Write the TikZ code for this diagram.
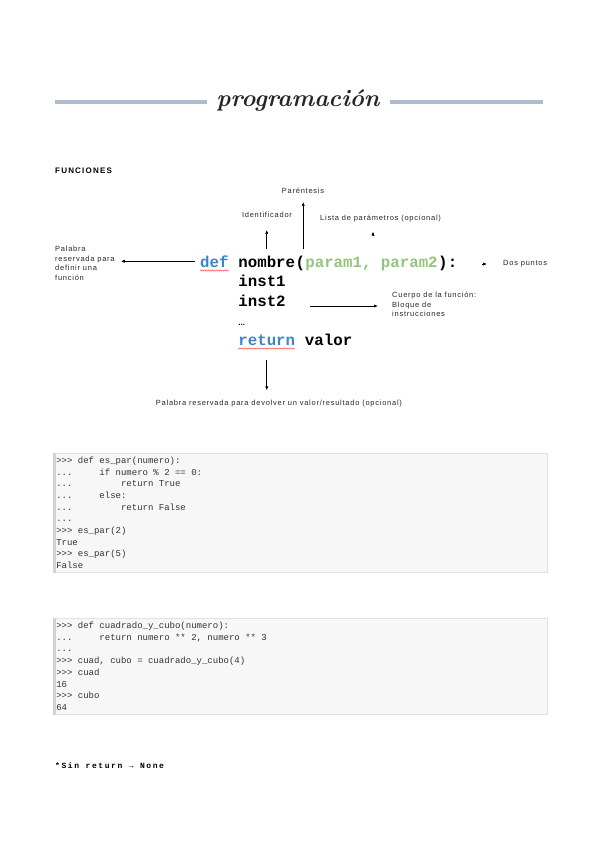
\documentclass[tikz,border=0pt]{standalone}
\usepackage{fontspec}
\setsansfont{Liberation Sans}
\setmonofont{Liberation Mono}
\usepackage{xcolor}
\usepackage{tikz}
\usetikzlibrary{arrows.meta,decorations.pathmorphing}

\definecolor{barblue}{HTML}{AEBBCD}
\definecolor{kwblue}{HTML}{3D85C6}
\definecolor{argreen}{HTML}{93C47D}
\definecolor{boxfill}{HTML}{F7F7F7}
\definecolor{boxline}{HTML}{E2E2E2}
\definecolor{boxstripe}{HTML}{D2D2D2}
\definecolor{consoletext}{HTML}{333333}
% n columns of the console font
\newlength\colwd
\newcommand\monospacing{\settowidth\colwd{x}\spaceskip=\colwd\relax\xspaceskip=\colwd\relax}
\newcommand\cols[1]{\hspace*{#1\colwd}}

\begin{document}
\begin{tikzpicture}[
  x=1pt,y=-1pt,
  font=\sffamily\fontsize{7.5}{9.5}\selectfont,
  note/.style={inner sep=1pt,align=left,text=black!85,
    font=\sffamily\fontsize{7.5}{9.5}\selectfont\addfontfeature{LetterSpace=10}},
  code/.style={inner sep=0pt,anchor=base west,
    font=\ttfamily\bfseries\fontsize{15.75}{19.5}\selectfont},
  flow/.style={-{Latex[length=4pt,width=3.2pt]},line width=0.7pt},
  squiggle/.style={draw=red!75,line width=0.4pt,decorate,
    decoration={snake,amplitude=0.6pt,segment length=2pt}},
  bar/.style={barblue,line width=4.5pt},
  console/.style={draw=boxline,fill=boxfill,line width=0.5pt,
    anchor=north west,text width=488pt,inner xsep=3pt,inner ysep=3pt,
    align=left,text=consoletext,
    font=\ttfamily\fontsize{9}{11.7}\selectfont}
]
\path[use as bounding box] (0,0) rectangle (599,848);
\draw[bar] (55,102) -- (207,102);
\draw[bar] (390,102) -- (543,102);
\node[text=black!85,font=\rmfamily\bfseries\itshape\fontsize{24}{28}\selectfont] (title) at (298,101) {programación};
\node[anchor=base west,inner sep=0pt,
  font=\sffamily\bfseries\fontsize{8}{9}\selectfont\addfontfeature{LetterSpace=15}] (funciones) at (55,173) {FUNCIONES};
\node[code,text=kwblue] (defkw) at (200,267) {def};
\node[code,xshift=9.45pt] (nombre) at (defkw.base east) {nombre};
\node[code] (lparen) at (nombre.base east) {(};
\node[code,text=argreen] (params) at (lparen.base east) {param1, param2};
\node[code] (rparen) at (params.base east) {)};
\node[code] (colon) at (rparen.base east) {:};
\node[code] (inst1) at ([yshift=-19.5pt]nombre.base west) {inst1};
\node[code] (inst2) at ([yshift=-19.5pt]inst1.base west) {inst2};
\node[code,font=\sffamily\bfseries\fontsize{8}{9}\selectfont] (dots) at ([yshift=-19pt]inst2.base west) {...};
\node[code,text=kwblue] (retkw) at ([yshift=-39pt]inst2.base west) {return};
\node[code,xshift=9.45pt] (valor) at (retkw.base east) {valor};
\draw[squiggle] ([yshift=-3.5pt]defkw.base west) -- ([yshift=-3.5pt]defkw.base east);
\draw[squiggle] ([yshift=-3.5pt]retkw.base west) -- ([yshift=-3.5pt]retkw.base east);
\node[note,anchor=north west] (reservada) at (54,245) {Palabra\\reservada para\\definir una\\función};
\node[note] (identif) at (267,215) {Identificador};
\node[note] (parent) at (303,191) {Paréntesis};
\node[note,anchor=west] (lista) at (319,219) {Lista de parámetros (opcional)};
\node[note,anchor=west] (dospuntos) at (502,264) {Dos puntos};
\node[note,anchor=north west] (cuerpo) at (391,291) {Cuerpo de la función:\\Bloque de\\instrucciones};
\node[note] (devolver) at (279,404) {Palabra reservada para devolver un valor/resultado (opcional)};
\coordinate (listafoot) at (373,235);
\coordinate (dosfoot) at (482,264);
\draw[flow,shorten <=5pt,shorten >=5pt] (defkw.west) -- (defkw.west -| reservada.east);
\draw[flow,shorten <=6pt,shorten >=11pt] (nombre.north) -- (nombre.north |- identif.south);
\draw[flow,shorten <=6pt,shorten >=7pt] ([xshift=3pt]lparen.north) -- ([xshift=3pt]lparen.north |- parent.south);
\draw[flow] (listafoot) -- ++(0,-3.5);
\draw[flow,shorten >=15pt] (dosfoot) -- (dosfoot -| dospuntos.west);
\draw[flow,shorten <=24pt,shorten >=13pt] (inst2.base east) -- (inst2.base east -| cuerpo.west);
\draw[flow,shorten <=15pt,shorten >=9pt] (retkw.south) -- (retkw.south |- devolver.north);
\node[console,minimum height=119pt] (espar) at (53,453) {\monospacing
>{}>{}> def es\_par(numero):\\
...\cols{5}if numero \% 2 == 0:\\
...\cols{9}return True\\
...\cols{5}else:\\
...\cols{9}return False\\
...\\
>{}>{}> es\_par(2)\\
True\\
>{}>{}> es\_par(5)\\
False};
\fill[boxstripe] (espar.north west) rectangle ([xshift=3pt]espar.south west);
\node[console,minimum height=96pt] (cubo) at (53,618) {\monospacing
>{}>{}> def cuadrado\_y\_cubo(numero):\\
...\cols{5}return numero ** 2, numero ** 3\\
...\\
>{}>{}> cuad, cubo = cuadrado\_y\_cubo(4)\\
>{}>{}> cuad\\
16\\
>{}>{}> cubo\\
64};
\fill[boxstripe] (cubo.north west) rectangle ([xshift=3pt]cubo.south west);
\node[anchor=base west,inner sep=0pt,
  font=\ttfamily\bfseries\fontsize{8}{9}\selectfont\addfontfeature{LetterSpace=20}] (sinreturn) at (55,768) {*Sin return → None};
\end{tikzpicture}
\end{document}
